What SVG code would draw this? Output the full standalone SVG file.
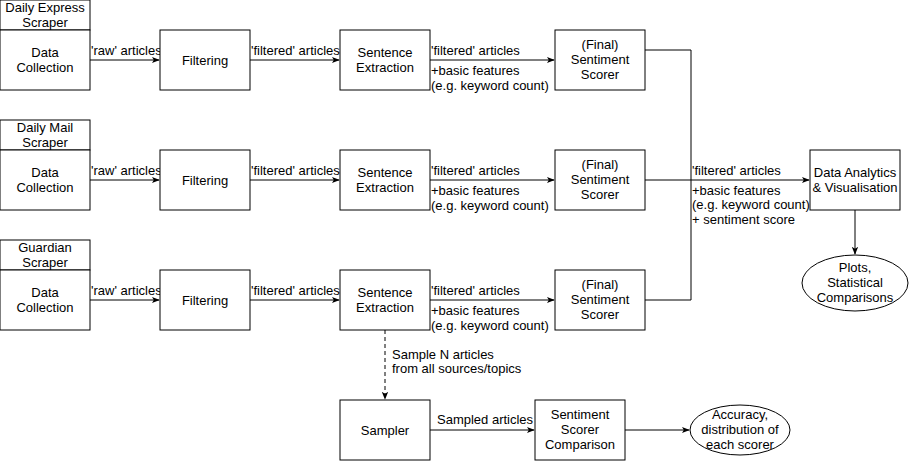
<svg xmlns="http://www.w3.org/2000/svg" width="909" height="461" viewBox="0 0 909 461">
<style>
.b{fill:#fff;stroke:#000;stroke-width:1}
.t{font-family:"Liberation Sans",Arial,sans-serif;font-size:13px;fill:#000;text-anchor:middle}
.l{font-family:"Liberation Sans",Arial,sans-serif;font-size:13px;fill:#000}
.c{fill:none;stroke:#000;stroke-width:1}
.d{stroke-dasharray:4 3}
</style>
<defs>
<marker id="a" viewBox="0 0 10 10" refX="9" refY="5" markerWidth="8" markerHeight="8" markerUnits="userSpaceOnUse" orient="auto">
<path d="M0,1 L10,5 L0,9 L2.5,5 Z" fill="#000"/>
</marker>
</defs>
<rect width="909" height="461" fill="#fff"/>
<g id="connectors">
<path class="c" d="M90,60H159" marker-end="url(#a)"/>
<path class="c" d="M250,60H339" marker-end="url(#a)"/>
<path class="c" d="M430,60H554" marker-end="url(#a)"/>
<path class="c" d="M90,180H159" marker-end="url(#a)"/>
<path class="c" d="M250,180H339" marker-end="url(#a)"/>
<path class="c" d="M430,180H554" marker-end="url(#a)"/>
<path class="c" d="M90,300H159" marker-end="url(#a)"/>
<path class="c" d="M250,300H339" marker-end="url(#a)"/>
<path class="c" d="M430,300H554" marker-end="url(#a)"/>
<path class="c" d="M645,50H691V300H645"/>
<path class="c" d="M645,180H809" marker-end="url(#a)"/>
<path class="c" d="M855,210V254" marker-end="url(#a)"/>
<path class="c d" d="M385,330V399" marker-end="url(#a)"/>
<path class="c" d="M430,430H534" marker-end="url(#a)"/>
<path class="c" d="M625,430H689" marker-end="url(#a)"/>
<text class="l" x="91" y="55">'raw' articles</text>
<text class="l" x="251" y="55">'filtered' articles</text>
<text class="l" x="431" y="55">'filtered' articles</text>
<text class="l" x="431" y="75">+basic features</text>
<text class="l" x="431" y="90">(e.g. keyword count)</text>
<text class="l" x="91" y="175">'raw' articles</text>
<text class="l" x="251" y="175">'filtered' articles</text>
<text class="l" x="431" y="175">'filtered' articles</text>
<text class="l" x="431" y="195">+basic features</text>
<text class="l" x="431" y="210">(e.g. keyword count)</text>
<text class="l" x="91" y="295">'raw' articles</text>
<text class="l" x="251" y="295">'filtered' articles</text>
<text class="l" x="431" y="295">'filtered' articles</text>
<text class="l" x="431" y="315">+basic features</text>
<text class="l" x="431" y="330">(e.g. keyword count)</text>
<text class="l" x="692" y="175">'filtered' articles</text>
<text class="l" x="692" y="195">+basic features</text>
<text class="l" x="692" y="209">(e.g. keyword count)</text>
<text class="l" x="692" y="224">+ sentiment score</text>
<text class="l" x="392" y="359">Sample N articles</text>
<text class="l" x="392" y="373">from all sources/topics</text>
<text class="l" x="437" y="424">Sampled articles</text>
</g>
<g id="scraper1"><rect class="b" x="0" y="0" width="90" height="30"/><text class="t" x="45" y="12">Daily Express</text><text class="t" x="45" y="27">Scraper</text></g>
<g id="collection1"><rect class="b" x="0" y="30" width="90" height="60"/><text class="t" x="45" y="57">Data</text><text class="t" x="45" y="72">Collection</text></g>
<g id="filtering1"><rect class="b" x="160" y="30" width="90" height="60"/><text class="t" x="205" y="65">Filtering</text></g>
<g id="extraction1"><rect class="b" x="340" y="30" width="90" height="60"/><text class="t" x="385" y="57">Sentence</text><text class="t" x="385" y="72">Extraction</text></g>
<g id="scorer1"><rect class="b" x="555" y="30" width="90" height="60"/><text class="t" x="600" y="49">(Final)</text><text class="t" x="600" y="64">Sentiment</text><text class="t" x="600" y="79">Scorer</text></g>
<g id="scraper2"><rect class="b" x="0" y="120" width="90" height="30"/><text class="t" x="45" y="132">Daily Mail</text><text class="t" x="45" y="147">Scraper</text></g>
<g id="collection2"><rect class="b" x="0" y="150" width="90" height="60"/><text class="t" x="45" y="177">Data</text><text class="t" x="45" y="192">Collection</text></g>
<g id="filtering2"><rect class="b" x="160" y="150" width="90" height="60"/><text class="t" x="205" y="185">Filtering</text></g>
<g id="extraction2"><rect class="b" x="340" y="150" width="90" height="60"/><text class="t" x="385" y="177">Sentence</text><text class="t" x="385" y="192">Extraction</text></g>
<g id="scorer2"><rect class="b" x="555" y="150" width="90" height="60"/><text class="t" x="600" y="169">(Final)</text><text class="t" x="600" y="184">Sentiment</text><text class="t" x="600" y="199">Scorer</text></g>
<g id="scraper3"><rect class="b" x="0" y="240" width="90" height="30"/><text class="t" x="45" y="252">Guardian</text><text class="t" x="45" y="267">Scraper</text></g>
<g id="collection3"><rect class="b" x="0" y="270" width="90" height="60"/><text class="t" x="45" y="297">Data</text><text class="t" x="45" y="312">Collection</text></g>
<g id="filtering3"><rect class="b" x="160" y="270" width="90" height="60"/><text class="t" x="205" y="305">Filtering</text></g>
<g id="extraction3"><rect class="b" x="340" y="270" width="90" height="60"/><text class="t" x="385" y="297">Sentence</text><text class="t" x="385" y="312">Extraction</text></g>
<g id="scorer3"><rect class="b" x="555" y="270" width="90" height="60"/><text class="t" x="600" y="289">(Final)</text><text class="t" x="600" y="304">Sentiment</text><text class="t" x="600" y="319">Scorer</text></g>
<g id="analytics"><rect class="b" x="810" y="150" width="90" height="60"/><text class="t" x="855" y="177">Data Analytics</text><text class="t" x="855" y="192">&amp; Visualisation</text></g>
<g id="plots"><ellipse class="b" cx="855" cy="283" rx="53" ry="28"/><text class="t" x="855" y="272">Plots,</text><text class="t" x="855" y="287">Statistical</text><text class="t" x="855" y="302">Comparisons</text></g>
<g id="sampler"><rect class="b" x="340" y="400" width="90" height="60"/><text class="t" x="385" y="435">Sampler</text></g>
<g id="comparison"><rect class="b" x="535" y="400" width="90" height="60"/><text class="t" x="580" y="419">Sentiment</text><text class="t" x="580" y="434">Scorer</text><text class="t" x="580" y="449">Comparison</text></g>
<g id="accuracy"><ellipse class="b" cx="740" cy="430" rx="50" ry="25"/><text class="t" x="740" y="419">Accuracy,</text><text class="t" x="740" y="434">distribution of</text><text class="t" x="740" y="449">each scorer</text></g>
</svg>
